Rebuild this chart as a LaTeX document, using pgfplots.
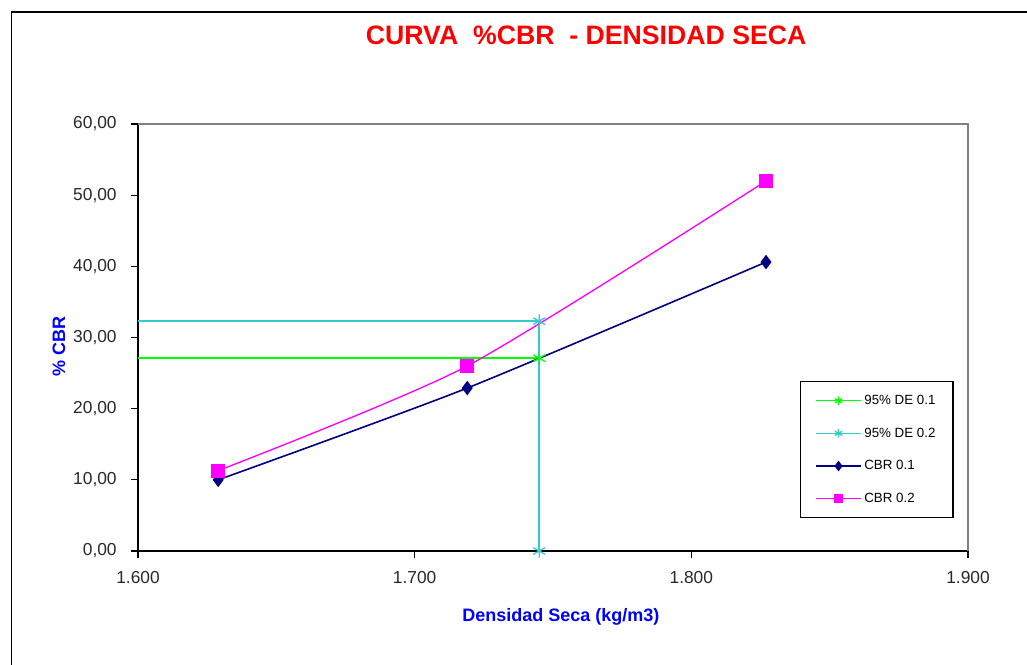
\documentclass[border=0pt]{standalone}
\usepackage{fontspec}
\setmainfont{Liberation Sans}
\usepackage{pgfplots}
\pgfplotsset{compat=1.18}
\definecolor{cbrnavy}{RGB}{0,0,128}
\definecolor{cbrmag}{RGB}{255,0,255}
\definecolor{decyan}{RGB}{51,204,204}
\definecolor{degreen}{RGB}{0,255,0}
\definecolor{lblblue}{RGB}{0,0,255}
\definecolor{ticktext}{RGB}{40,40,40}
\begin{document}
\begin{tikzpicture}
\begin{axis}[
  at={(103.5pt,-413.25pt)}, anchor=south west,
  scale only axis, width=622.5pt, height=320.25pt,
  xmin=1.6, xmax=1.9, ymin=0, ymax=60,
  clip=false,
  xtick={1.6,1.7,1.8,1.9}, ytick={0,10,20,30,40,50,60},
  axis x line*=bottom, axis y line*=left,
  axis line style={black, line width=1pt},
  tick align=outside, tick style={black, line width=0.8pt}, major tick length=5pt,
  /pgf/number format/assume math mode=true,
  x tick label style={yshift=-6.5pt, /pgf/number format/fixed, /pgf/number format/fixed zerofill, /pgf/number format/precision=3},
  y tick label style={xshift=-7.5pt, /pgf/number format/fixed, /pgf/number format/fixed zerofill, /pgf/number format/precision=2, /pgf/number format/use comma},
  ticklabel style={font=\fontsize{13}{15}\selectfont, text=ticktext},
  title={CURVA\ \ \%CBR\ \ - DENSIDAD SECA},
  title style={at={(0.540,1.19)}, anchor=center, font=\fontsize{20}{24}\selectfont\bfseries, text=red},
  xlabel={Densidad Seca (kg/m3)},
  xlabel style={at={(0.5096,-0.1546)}, anchor=center, font=\fontsize{13.5}{16}\selectfont\bfseries, text=lblblue},
  ylabel={\% CBR},
  ylabel style={at={(-0.0952,0.48)}, anchor=center, font=\fontsize{13.5}{16}\selectfont\bfseries, text=lblblue},
  legend style={at={(0.7976,0.398)}, anchor=north west, draw=black, line width=1pt,
    font=\fontsize{10}{12}\selectfont, row sep=12pt, inner xsep=11pt, inner ysep=8pt},
  legend cell align=left,
  legend image code/.code={\draw[mark repeat=2, mark phase=2, #1] plot coordinates {(0pt,0pt) (16.875pt,0pt) (33.75pt,0pt)};},
]
\draw[gray, line width=0.8pt] (rel axis cs:0,1) -- (rel axis cs:1,1) -- (rel axis cs:1,0);
\addplot[degreen, line width=1.1pt, forget plot] coordinates {(1.6,27.1) (1.745,27.1) (1.745,0)};
\addplot[decyan, line width=1.1pt, forget plot] coordinates {(1.6,32.3) (1.745,32.3) (1.745,0)};
\addplot[cbrnavy, line width=1.2pt, smooth, tension=0.4, mark=diamond*, mark size=4.5pt, forget plot] coordinates {(1.629,10.0) (1.719,22.9) (1.827,40.6)};
\addplot[cbrmag, line width=1pt, smooth, tension=0.4, mark=square*, mark size=4.7pt, forget plot] coordinates {(1.629,11.3) (1.719,26.0) (1.827,52.0)};
\addplot[degreen, only marks, mark=asterisk, mark size=5pt, mark options={line width=1pt}, forget plot] coordinates {(1.745,27.1)};
\addplot[decyan, only marks, mark=asterisk, mark size=5pt, mark options={line width=1pt}, forget plot] coordinates {(1.745,32.3) (1.745,0)};
\addlegendimage{degreen, line width=1pt, mark=asterisk, mark size=3.2pt}
\addlegendentry{95\% DE 0.1}
\addlegendimage{decyan, line width=1pt, mark=asterisk, mark size=3.2pt}
\addlegendentry{95\% DE 0.2}
\addlegendimage{cbrnavy, line width=1pt, mark=diamond*, mark size=3.2pt}
\addlegendentry{CBR 0.1}
\addlegendimage{cbrmag, line width=1pt, mark=square*, mark size=3pt}
\addlegendentry{CBR 0.2}
\end{axis}
\draw[black, line width=1.2pt] (8.6pt,-550pt) -- (8.6pt,-9pt) -- (850pt,-9pt);
\pgfresetboundingbox
\useasboundingbox (0,0) rectangle (770.25pt,-498pt);
\end{tikzpicture}
\end{document}
